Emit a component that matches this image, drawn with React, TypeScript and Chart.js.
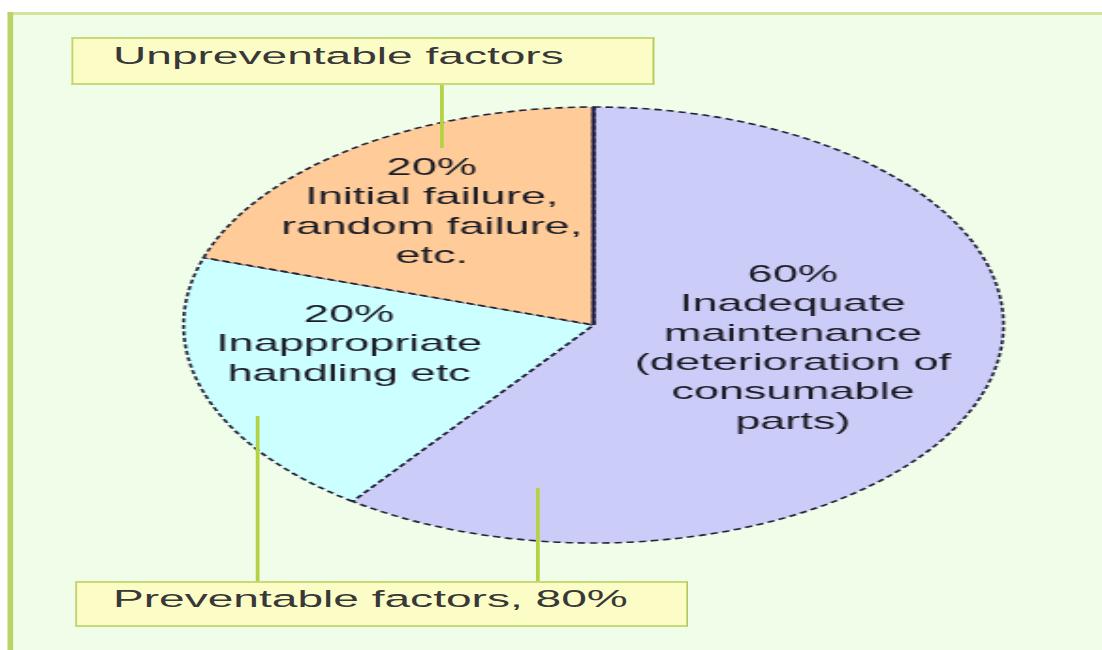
import React, { useEffect, useRef } from 'react';
import { Chart, registerables } from 'chart.js';

Chart.register(...registerables);

// ---------- data ----------
const categories = ['Inadequate maintenance', 'Inappropriate handling', 'Initial / random failure'];
const shares = [60, 20, 20];
const sliceColors = ['#ccccf8', '#ccffff', '#ffcc99'];
const purpleLines = ['60%', 'Inadequate', 'maintenance', '(deterioration of', 'consumable', 'parts)'];
const cyanLines = ['20%', 'Inappropriate', 'handling etc'];
const orangeLines = ['20%', 'Initial failure,', 'random failure,', 'etc.'];
const groupLabels = ['Unpreventable factors', 'Preventable factors, 80%'];

// ---------- layout (logical px, whole picture stretched horizontally) ----------
const W = 586;
const H = 650;
const SX = 1102 / W;
const LINE_H = 29.3;
const FONT = '"Liberation Sans", Arial, sans-serif';
const labelAnchors = [
  { lines: purpleLines, dx: 106, dy: -43 },
  { lines: cyanLines, dx: -130, dy: -3 },
  { lines: orangeLines, dx: -86, dy: -150 },
];

const pieDecor = {
  id: 'pieDecor',
  afterDatasetsDraw(chart: any) {
    const meta = chart.getDatasetMeta(0);
    const first = meta.data[0];
    if (!first) return;
    const { x, y, outerRadius, startAngle } = first.getProps(['x', 'y', 'outerRadius', 'startAngle'], true);
    const ctx = chart.ctx as CanvasRenderingContext2D;
    ctx.save();
    // solid dark divider between the unpreventable and preventable parts
    ctx.strokeStyle = '#1c1c44';
    ctx.lineWidth = 2.1;
    ctx.setLineDash([]);
    ctx.beginPath();
    ctx.moveTo(x, y);
    ctx.lineTo(x + Math.cos(startAngle) * outerRadius, y + Math.sin(startAngle) * outerRadius);
    ctx.stroke();
    // slice texts
    ctx.fillStyle = '#1c1c26';
    ctx.font = `24px ${FONT}`;
    ctx.textAlign = 'center';
    ctx.textBaseline = 'alphabetic';
    labelAnchors.forEach((a) => {
      a.lines.forEach((t, j) => ctx.fillText(t, x + a.dx, y + a.dy + j * LINE_H));
    });
    ctx.restore();
  },
};

const lx = (screenX: number) => screenX / SX;

export default function App() {
  const ref = useRef<HTMLCanvasElement | null>(null);

  useEffect(() => {
    if (!ref.current) return;
    const chart = new Chart(ref.current, {
      type: 'pie',
      data: {
        labels: categories,
        datasets: [
          {
            data: shares,
            backgroundColor: sliceColors,
            borderColor: '#22223a',
            borderWidth: 1.6,
            borderDash: [4, 2.5],
            hoverOffset: 0,
            radius: 218,
          } as any,
        ],
      },
      options: {
        responsive: false,
        animation: false,
        events: [],
        layout: { padding: { left: 45.2, right: 0, top: 0, bottom: 0 } },
        plugins: { legend: { display: false }, tooltip: { enabled: false } },
      },
      plugins: [pieDecor],
    });
    return () => chart.destroy();
  }, []);

  const green = '#b4d244';
  const boxStyle = (left: number, top: number, width: number, height: number): React.CSSProperties => ({
    position: 'absolute',
    left,
    top,
    width,
    height,
    boxSizing: 'border-box',
    background: '#fcfcc6',
    borderTop: '2px solid #c8da78',
    borderBottom: '2px solid #c8da78',
    borderLeft: '1.4px solid #c0d470',
    borderRight: '1.6px solid #b0c85a',
  });
  const textStyle = (left: number, top: number): React.CSSProperties => ({
    position: 'absolute',
    left,
    top,
    fontFamily: FONT,
    fontSize: '24.5px',
    lineHeight: '24.5px',
    color: '#383838',
    whiteSpace: 'nowrap',
  });
  const vline = (screenX: number, top: number, bottom: number): React.CSSProperties => ({
    position: 'absolute',
    left: lx(screenX) - 1,
    top,
    width: 2,
    height: bottom - top,
    background: green,
  });

  return (
    <div style={{ position: 'absolute', left: 0, top: 0, width: 1102, height: 650, background: '#ffffff', overflow: 'hidden' }}>
      <div
        style={{
          position: 'absolute',
          left: 0,
          top: 0,
          width: W,
          height: H,
          transform: `scaleX(${SX})`,
          transformOrigin: '0 0',
        }}
      >
        <div style={{ position: 'absolute', left: lx(8), top: 12, width: W, height: H, background: '#f0fde8' }} />
        <div style={{ position: 'absolute', left: lx(8), top: 12, width: W, height: 3, background: '#d4e2a0' }} />
        <div style={{ position: 'absolute', left: lx(8), top: 12, width: lx(5), height: H, background: '#b8d468' }} />
        <canvas ref={ref} width={W} height={H} style={{ position: 'absolute', left: 0, top: 0, width: W, height: H }} />
        <div style={vline(441, 85, 148)} />
        <div style={vline(257, 416, 581)} />
        <div style={vline(537, 488, 581)} />
        <div style={boxStyle(lx(72), 37, lx(655) - lx(72), 48)} />
        <div style={textStyle(lx(113), 44)}>{groupLabels[0]}</div>
        <div style={boxStyle(lx(75), 581, lx(688) - lx(75), 46)} />
        <div style={textStyle(lx(113), 587.3)}>{groupLabels[1]}</div>
      </div>
    </div>
  );
}
